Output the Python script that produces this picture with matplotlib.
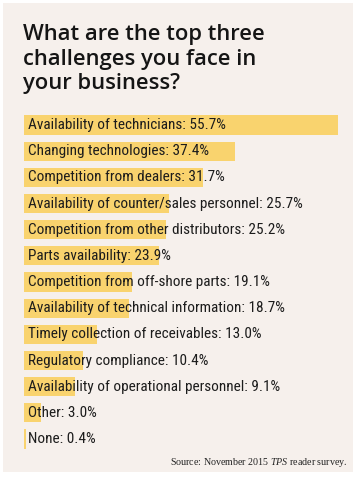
import matplotlib.pyplot as plt
from matplotlib.patches import Rectangle

plt.rcParams['mathtext.fontset'] = 'custom'
plt.rcParams['mathtext.rm'] = 'Liberation Serif'
plt.rcParams['mathtext.it'] = 'Liberation Serif:italic'

labels = ['Availability of technicians', 'Changing technologies', 'Competition from dealers',
          'Availability of counter/sales personnel', 'Competition from other distributors',
          'Parts availability', 'Competition from off-shore parts',
          'Availability of technical information', 'Timely collection of receivables',
          'Regulatory compliance', 'Availability of operational personnel', 'Other', 'None']
values = [55.7, 37.4, 31.7, 25.7, 25.2, 23.9, 19.1, 18.7, 13.0, 10.4, 9.1, 3.0, 0.4]
title_lines = ['What are the top three', 'challenges you face in', 'your business?']

W, H = 359, 478
bg = '#f6f0ec'
bar_color = '#f9d36e'
narrow = ['Roboto Condensed', 'Open Sans Condensed', 'DejaVu Sans']

fig = plt.figure(figsize=(W / 100, H / 100), dpi=100)
fig.patch.set_facecolor('white')
fig.patches.append(Rectangle((3 / W, 6 / H), 350 / W, 469 / H, transform=fig.transFigure,
                             facecolor=bg, edgecolor='none', zorder=-5))

for i, line in enumerate(title_lines):
    fig.text(23 / W, 1 - (40 + 24.5 * i) / H, line, ha='left', va='baseline',
             fontsize=15.8, family='Open Sans', weight='semibold', color='#151515')

row = 26.17
top = 125 - row / 2
ax = fig.add_axes([24 / W, 1 - (top + 13 * row) / H, 314 / W, 13 * row / H])
ax.set_facecolor('none')
ypos = list(range(len(values)))
ax.barh(ypos, values, height=0.73, color=bar_color, left=0)
for y, lab, v in zip(ypos, labels, values):
    ax.annotate(f'{lab}: {v:.1f}%', (0, y), xytext=(3, 0), textcoords='offset points',
                ha='left', va='center', fontsize=11, family=narrow, fontstretch='condensed',
                color='#1c1c1c')
ax.set_xlim(0, 55.7)
ax.set_ylim(12.5, -0.5)
ax.axis('off')

fig.text(347 / W, 1 - 465 / H, r'Source: November 2015 $\it{TPS}$ reader survey.',
         ha='right', va='baseline', fontsize=7.2, family='Liberation Serif', color='#222222')

fig.savefig('out.png', dpi=100, facecolor='white')
